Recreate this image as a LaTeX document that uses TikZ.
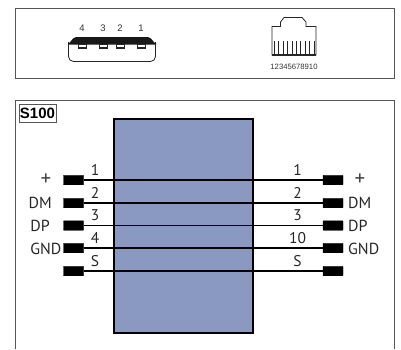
\documentclass[tikz,border=0pt]{standalone}
\usepackage{fontspec}
\setmainfont{PT Sans}
\newfontfamily\helv{Liberation Sans}
\definecolor{bodyblue}{RGB}{137,153,193}
\definecolor{framegray}{RGB}{85,85,85}
\tikzset{
  frameline/.style={draw=framegray,line width=0.9pt},
  pinblock/.style={draw=black,fill=black,minimum width=20pt,minimum height=9.5pt,inner sep=0pt,rounded corners=0.5pt},
  wire/.style={line width=1.3pt,black},
  wirenum/.style={font=\fontsize{15.5}{15.5}\selectfont,inner sep=0pt,text=black!85},
  signame/.style={font=\fontsize{16}{16}\selectfont,inner sep=0pt,text=black!85},
  plusname/.style={font=\fontsize{21}{21}\selectfont,inner sep=0pt,text=black!75},
  smalllab/.style={font=\helv\fontsize{9.5}{9.5}\selectfont,inner sep=0pt,text=black!80},
  tinylab/.style={font=\helv\fontsize{7.7}{7.7}\selectfont,inner sep=0pt,text=black!80},
}
\begin{document}
\begin{tikzpicture}[x=1pt,y=-1pt]
\useasboundingbox (0,0) rectangle (401,349);
% frames
\draw[frameline] (15,8) rectangle (394,78);
\draw[frameline] (15,349) -- (15,100) -- (394,100) -- (394,349);
\node[draw=framegray,line width=0.8pt,minimum width=37pt,minimum height=18pt,inner sep=0pt,font=\helv\fontsize{15}{15}\selectfont\bfseries] (title) at (37.5,113) {S100};
% USB connector
\draw[line width=0.8pt,black!85,rounded corners=5pt] (68.5,42) -- (68.5,61.5) -- (155.5,61.5) -- (155.5,42);
\fill[black!90] (68,44.5) -- (68,43) to[out=-90,in=180] (76,37) -- (148,37) to[out=0,in=-90] (156,43) -- (156,44.5) -- cycle;
\foreach \px/\lab in {82/4,103/3,120/2,141/1}{
  \draw[line width=0.6pt,black!85,fill=white] (\px-4,44.5) rectangle (\px+4,48.5);
  \fill[black!85] (\px-4,46.8) rectangle (\px+4,48.5);
  \node[smalllab] (usb\lab) at (\px,28.5) {\lab};
}
% RJ connector
\draw[line width=0.8pt,black!85] (272,55) -- (272,26.5) -- (280.5,26.5) -- (280.5,22) -- (284,17.5) -- (302,17.5) -- (306,22) -- (306,26.5) -- (316,26.5) -- (316,55) -- cycle;
\draw[line width=1.1pt,black!85] (272,55) -- (316,55);
\foreach \i in {0,...,9}{
  \draw[line width=0.5pt,black!85] (274+\i*4.45,41) -- (274+\i*4.45,55);
}
\node[tinylab] (rjnums) at (294,67) {12345678910};
% body
\node[draw=black,line width=1.5pt,fill=bodyblue,minimum width=139pt,minimum height=214pt,inner sep=0pt] (body) at (183.5,226) {};
% pins and wires
\foreach \n/\py/\ln/\rn in {a/180/1/1,b/203/2/2,c/225.5/3/3,d/248/4/10,e/271/S/S}{
  \node[pinblock] (L\n) at (73.5,\py) {};
  \node[pinblock] (R\n) at (333,\py) {};
  \draw[wire] (L\n.east) -- (R\n.west);
  \node[wirenum] (LN\n) at (95,\py-10) {\ln};
  \node[wirenum] (RN\n) at (297.5,\py-10) {\rn};
}
\node[plusname] (sl1) at (46,179.5) {+};
\node[signame,anchor=east] (sl2) at (52,203) {DM};
\node[signame,anchor=east] (sl3) at (50,225.5) {DP};
\node[signame,anchor=east] (sl4) at (61.5,248.5) {GND};
\node[plusname] (sr1) at (360,179.5) {+};
\node[signame,anchor=west] (sr2) at (348,203) {DM};
\node[signame,anchor=west] (sr3) at (348,226) {DP};
\node[signame,anchor=west] (sr4) at (348,248.5) {GND};
\end{tikzpicture}
\end{document}
